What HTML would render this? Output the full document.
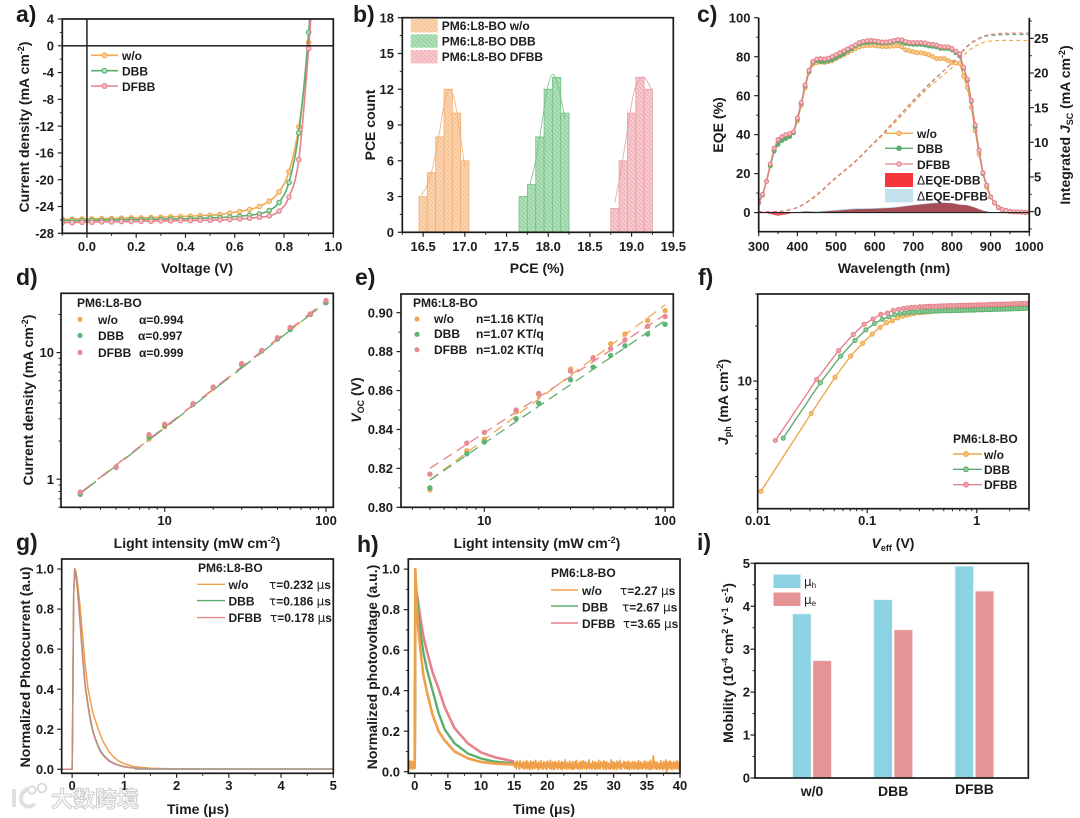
<!DOCTYPE html>
<html lang="en">
<head>
<meta charset="utf-8">
<title>Nine-panel organic solar cell device characterisation figure</title>
<style>
html,body{margin:0;padding:0;background:#fff;}
body{width:1080px;height:818px;overflow:hidden;}
svg{display:block;filter:blur(0.35px);font-family:"Liberation Sans","Noto Sans CJK SC",sans-serif;font-weight:bold;fill:#1c1c1c;}
.p{font-size:23px;}
.t{font-size:13px;}
.l{font-size:12px;}
.n{font-size:14px;}
.s{font-family:"DejaVu Sans",sans-serif;font-weight:normal;}
.m{text-anchor:middle;}
</style>
</head>
<body>
<svg id="figure" xmlns="http://www.w3.org/2000/svg" width="1080" height="818" viewBox="0 0 1080 818">
<defs>
<pattern id="hatch-o" patternUnits="userSpaceOnUse" width="3" height="3" patternTransform="rotate(-45)"><rect width="3" height="3" fill="#fbd6b2"/><rect width="1.2" height="3" fill="#f6c090"/></pattern>
<pattern id="hatch-g" patternUnits="userSpaceOnUse" width="3" height="3" patternTransform="rotate(-45)"><rect width="3" height="3" fill="#b4e2bc"/><rect width="1.2" height="3" fill="#8ed09b"/></pattern>
<pattern id="hatch-r" patternUnits="userSpaceOnUse" width="3" height="3" patternTransform="rotate(-45)"><rect width="3" height="3" fill="#f8cdd1"/><rect width="1.2" height="3" fill="#efaeb4"/></pattern>
</defs>
<rect width="1080" height="818" fill="#fff"/>

<!-- panel a -->
<g id="a">
<text class="p" x="16" y="22">a)</text>
<text class="n m" x="197" y="273">Voltage (V)</text>
<text class="n m" transform="translate(29,127) rotate(-90)">Current density (mA cm<tspan font-size="9" dy="-5">-2</tspan><tspan dy="5">)</tspan></text>
<g id="a-legend">
<line x1="91" x2="118" y1="55.3" y2="55.3" stroke="#f0a94e" stroke-width="1.6"/><circle cx="104.5" cy="55.3" r="2.4" fill="#f8d6a8" stroke="#f0a94e" stroke-width="1.2"/>
<text class="l" x="122" y="60">w/o</text>
<line x1="91" x2="118" y1="70.7" y2="70.7" stroke="#5cae6f" stroke-width="1.6"/><circle cx="104.5" cy="70.7" r="2.4" fill="#bfe2c6" stroke="#5cae6f" stroke-width="1.2"/>
<text class="l" x="122" y="75.5">DBB</text>
<line x1="91" x2="118" y1="86" y2="86" stroke="#e5828b" stroke-width="1.6"/><circle cx="104.5" cy="86" r="2.4" fill="#f4c6ca" stroke="#e5828b" stroke-width="1.2"/>
<text class="l" x="122" y="91">DFBB</text>
</g>
</g>

<!-- panel b -->
<g id="b">
<text class="p" x="353" y="22">b)</text>
<text class="n m" x="537" y="273">PCE (%)</text>
<text class="n m" transform="translate(375,125) rotate(-90)">PCE count</text>
<g>
<rect x="410.7" y="19" width="27" height="13.4" fill="url(#hatch-o)"/>
<text class="l" x="441.7" y="30">PM6:L8-BO w/o</text>
<rect x="410.7" y="34.3" width="27" height="13.4" fill="url(#hatch-g)"/>
<text class="l" x="441.7" y="45.5">PM6:L8-BO DBB</text>
<rect x="410.7" y="50" width="27" height="13.4" fill="url(#hatch-r)"/>
<text class="l" x="441.7" y="61">PM6:L8-BO DFBB</text>
</g>
</g>

<!-- panel c -->
<g id="c">
<text class="p" x="697" y="22">c)</text>
<text class="n m" x="894" y="273">Wavelength (nm)</text>
<text class="n m" transform="translate(723,125) rotate(-90)">EQE (%)</text>
<text class="n m" transform="translate(1070,125) rotate(-90)">Integrated <tspan font-style="italic">J</tspan><tspan font-size="9" dy="3">SC</tspan><tspan dy="-3"> (mA cm</tspan><tspan font-size="9" dy="-5">-2</tspan><tspan dy="5">)</tspan></text>
<g id="c-legend">
<line x1="885" x2="913" y1="133.3" y2="133.3" stroke="#f0a94e" stroke-width="1.3"/><circle cx="899" cy="133.3" r="2.2" fill="#f8d6a8" stroke="#f0a94e" stroke-width="1.2"/>
<text class="l" x="917" y="138">w/o</text>
<line x1="885" x2="913" y1="148.3" y2="148.3" stroke="#5cae6f" stroke-width="1.3"/><circle cx="899" cy="148.3" r="2.2" fill="#5cae6f" stroke="#5cae6f" stroke-width="1.2"/>
<text class="l" x="917" y="153">DBB</text>
<line x1="885" x2="913" y1="164" y2="164" stroke="#e5828b" stroke-width="1.3"/><circle cx="899" cy="164" r="2.2" fill="#f4c6ca" stroke="#e5828b" stroke-width="1.2"/>
<text class="l" x="917" y="169">DFBB</text>
<rect x="885" y="173" width="28" height="14" fill="#f5363c"/>
<text class="l" x="917" y="184.5"><tspan class="s">Δ</tspan>EQE-DBB</text>
<rect x="885" y="189" width="28" height="13.5" fill="#c4e2ec"/>
<text class="l" x="917" y="200.5"><tspan class="s">Δ</tspan>EQE-DFBB</text>
</g>
</g>

<!-- panel d -->
<g id="d">
<text class="p" x="16" y="285">d)</text>
<text class="n m" x="197" y="548">Light intensity (mW cm<tspan font-size="9" dy="-5">-2</tspan><tspan dy="5">)</tspan></text>
<text class="n m" transform="translate(33,400) rotate(-90)">Current density (mA cm<tspan font-size="9" dy="-5">-2</tspan><tspan dy="5">)</tspan></text>
<g>
<text class="l" x="77" y="307">PM6:L8-BO</text>
<circle cx="80" cy="319.3" r="2.6" fill="#f2a95a"/>
<text class="l" x="98" y="324">w/o</text><text class="l" x="139" y="324">α=0.994</text>
<circle cx="80" cy="335.5" r="2.6" fill="#5cb574"/>
<text class="l" x="98" y="340">DBB</text><text class="l" x="138" y="340">α=0.997</text>
<circle cx="80" cy="352.5" r="2.6" fill="#e78b93"/>
<text class="l" x="98" y="357">DFBB</text><text class="l" x="139" y="357">α=0.999</text>
</g>
</g>

<!-- panel e -->
<g id="e">
<text class="p" x="355" y="285">e)</text>
<text class="n m" x="537" y="548">Light intensity (mW cm<tspan font-size="9" dy="-5">-2</tspan><tspan dy="5">)</tspan></text>
<text class="n m" transform="translate(361,400) rotate(-90)"><tspan font-style="italic">V</tspan><tspan font-size="9" dy="3">OC</tspan><tspan dy="-3"> (V)</tspan></text>
<g>
<text class="l" x="413" y="307">PM6:L8-BO</text>
<circle cx="417" cy="319" r="2.6" fill="#f2a95a"/>
<text class="l" x="434" y="323">w/o</text><text class="l" x="476" y="323">n=1.16 KT/q</text>
<circle cx="417" cy="334.3" r="2.6" fill="#5cb574"/>
<text class="l" x="434" y="338">DBB</text><text class="l" x="476" y="338">n=1.07 KT/q</text>
<circle cx="417" cy="349.7" r="2.6" fill="#e78b93"/>
<text class="l" x="434" y="354">DFBB</text><text class="l" x="476" y="354">n=1.02 KT/q</text>
</g>
</g>

<!-- panel f -->
<g id="f">
<text class="p" x="698" y="285">f)</text>
<text class="n m" x="893" y="548"><tspan font-style="italic">V</tspan><tspan font-size="9" dy="3">eff</tspan><tspan dy="-3"> (V)</tspan></text>
<text class="n m" transform="translate(728,402) rotate(-90)"><tspan font-style="italic">J</tspan><tspan font-size="9" dy="3">ph</tspan><tspan dy="-3"> (mA cm</tspan><tspan font-size="9" dy="-5">-2</tspan><tspan dy="5">)</tspan></text>
<g id="f-legend">
<text class="l" x="953" y="443">PM6:L8-BO</text>
<line x1="953" x2="982" y1="454" y2="454" stroke="#f0a94e" stroke-width="1.4"/><circle cx="966" cy="454" r="2.4" fill="#f5c07e" stroke="#f0a94e" stroke-width="1.1"/>
<text class="l" x="984" y="459">w/o</text>
<line x1="953" x2="982" y1="469.3" y2="469.3" stroke="#5cae6f" stroke-width="1.4"/><circle cx="966" cy="469.3" r="2.4" fill="#8ccb99" stroke="#5cae6f" stroke-width="1.1"/>
<text class="l" x="984" y="474">DBB</text>
<line x1="953" x2="982" y1="484.7" y2="484.7" stroke="#e5828b" stroke-width="1.4"/><circle cx="966" cy="484.7" r="2.4" fill="#eda3a9" stroke="#e5828b" stroke-width="1.1"/>
<text class="l" x="984" y="489">DFBB</text>
</g>
</g>

<!-- panel g -->
<g id="g">
<text class="p" x="16" y="550">g)</text>
<text class="n m" x="198" y="814">Time (μs)</text>
<text class="n m" transform="translate(30,667) rotate(-90)">Normalized Photocurrent (a.u)</text>
<g>
<text class="l" x="198" y="572">PM6:L8-BO</text>
<line x1="197" x2="225" y1="584.3" y2="584.3" stroke="#f0a04a" stroke-width="1.4"/>
<text class="l" x="228.5" y="589">w/o</text><text class="l" x="269" y="589"><tspan class="s">τ</tspan>=0.232 <tspan class="s">μ</tspan>s</text>
<line x1="197" x2="225" y1="600.6" y2="600.6" stroke="#5cae6f" stroke-width="1.4"/>
<text class="l" x="228.5" y="605.5">DBB</text><text class="l" x="269" y="605.5"><tspan class="s">τ</tspan>=0.186 <tspan class="s">μ</tspan>s</text>
<line x1="197" x2="225" y1="617.6" y2="617.6" stroke="#e5828b" stroke-width="1.4"/>
<text class="l" x="228.5" y="622">DFBB</text><text class="l" x="270" y="622"><tspan class="s">τ</tspan>=0.178 <tspan class="s">μ</tspan>s</text>
</g>
</g>

<!-- panel h -->
<g id="h">
<text class="p" x="357" y="552">h)</text>
<text class="n m" x="544" y="814">Time (μs)</text>
<text class="n m" transform="translate(377,667) rotate(-90)">Normalized photovoltage (a.u.)</text>
<g>
<text class="l" x="551" y="577">PM6:L8-BO</text>
<line x1="551" x2="578" y1="590" y2="590" stroke="#f0a04a" stroke-width="1.4"/>
<text class="l" x="582" y="595">w/o</text><text class="l" x="620" y="595"><tspan class="s">τ</tspan>=2.27 <tspan class="s">μ</tspan>s</text>
<line x1="551" x2="578" y1="606" y2="606" stroke="#5cae6f" stroke-width="1.4"/>
<text class="l" x="582" y="611.5">DBB</text><text class="l" x="622" y="611.5"><tspan class="s">τ</tspan>=2.67 <tspan class="s">μ</tspan>s</text>
<line x1="551" x2="578" y1="623" y2="623" stroke="#e5828b" stroke-width="1.4"/>
<text class="l" x="582" y="628">DFBB</text><text class="l" x="623" y="628"><tspan class="s">τ</tspan>=3.65 <tspan class="s">μ</tspan>s</text>
</g>
</g>

<!-- panel i -->
<g id="i">
<text class="p" x="697" y="550">i)</text>
<text class="n m" transform="translate(733,663) rotate(-90)">Mobility (10<tspan font-size="9" dy="-5">-4</tspan><tspan dy="5"> cm</tspan><tspan font-size="9" dy="-5">2</tspan><tspan dy="5"> V</tspan><tspan font-size="9" dy="-5">-1</tspan><tspan dy="5"> s</tspan><tspan font-size="9" dy="-5">-1</tspan><tspan dy="5">)</tspan></text>
<g>
<rect x="773.5" y="574.5" width="27" height="13.5" fill="#8dd2e4"/>
<text class="l" x="804" y="586" font-weight="normal"><tspan class="s">μ</tspan><tspan font-size="8" dy="2">h</tspan></text>
<rect x="773.5" y="592.5" width="27" height="13.5" fill="#e69396"/>
<text class="l" x="804" y="604" font-weight="normal"><tspan class="s">μ</tspan><tspan font-size="8" dy="2">e</tspan></text>
</g>
</g>

<!-- watermark -->
<g opacity="0.8">
<path d="M14 789 L14 807 M28 788 Q17 796 23 804 Q29 809 35 804" fill="none" stroke="#d8d8d8" stroke-width="4"/>
<circle cx="32" cy="790" r="3.8" fill="none" stroke="#d0d0d0" stroke-width="1.8"/>
<circle cx="42" cy="788" r="4.4" fill="none" stroke="#d0d0d0" stroke-width="1.8"/>
<text x="51" y="807" font-size="22" fill="#fafafa" stroke="#c4c4c4" stroke-width="1" style="font-family:'Noto Sans CJK SC',sans-serif">大数跨境</text>
</g>
</svg>

<script>
// ---- panel a: J-V ----
const jvVoltage = [-0.1,-0.06,-0.02,0.02,0.06,0.1,0.14,0.18,0.22,0.26,0.3,0.34,0.38,0.42,0.46,0.5,0.54,0.58,0.62,0.66,0.7,0.74,0.78,0.82,0.86,0.9,0.92];
const jvWo   = [-25.9,-25.9,-25.85,-25.85,-25.8,-25.8,-25.75,-25.7,-25.7,-25.65,-25.6,-25.55,-25.5,-25.45,-25.35,-25.3,-25.2,-24.95,-24.75,-24.45,-24,-23.2,-21.8,-18.8,-12.1,0.5,13];
const jvDbb  = [-26.1,-26.1,-26.1,-26.05,-26.05,-26,-26,-25.95,-25.95,-25.9,-25.9,-25.85,-25.85,-25.8,-25.75,-25.7,-25.65,-25.55,-25.45,-25.3,-25.1,-24.6,-23.4,-20.4,-13,2,14];
const jvDfbb = [-26.4,-26.4,-26.35,-26.35,-26.3,-26.3,-26.25,-26.25,-26.2,-26.2,-26.15,-26.15,-26.1,-26.1,-26.05,-26.05,-26,-25.95,-25.85,-25.75,-25.6,-25.4,-24.7,-22.6,-17,-0.4,11];
const jvYTicks = [4,0,-4,-8,-12,-16,-20,-24,-28];
const jvXTicks = [0,0.2,0.4,0.6,0.8,1];

// ---- panel b: PCE histogram ----
const binWidth = 0.1;
const binStartWo = [16.45,16.55,16.65,16.75,16.85,16.95];
const countWo = [3,5,8,12,10,6];
const binStartDbb = [17.65,17.75,17.85,17.95,18.05,18.15];
const countDbb = [3,4,8,12,13,10];
const binStartDfbb = [18.75,18.85,18.95,19.05,19.15];
const countDfbb = [2,6,10,13,12];
const fitXWo = [16.48,16.55,16.62,16.7,16.76,16.82,16.88,16.94,17];
const fitYWo = [3.1,4,5.6,8.6,11,12,11,8.4,5.5];
const fitXDbb = [17.78,17.85,17.92,18,18.07,18.14,18.2];
const fitYDbb = [4,6,9,12.4,13.2,11.6,9.5];
const fitXDfbb = [18.8,18.88,18.95,19.03,19.13,19.2,19.25];
const fitYDfbb = [2.5,5.5,8.6,11.8,13,12.5,11.8];
const pceXTicks = [16.5,17,17.5,18,18.5,19,19.5];
const pceYTicks = [0,3,6,9,12,15,18];

// ---- panel c: EQE ----
const eqeNm = [300,310,320,330,340,350,360,370,380,390,400,410,420,430,440,450,460,470,480,490,500,510,520,530,540,550,560,570,580,590,600,610,620,630,640,650,660,670,680,690,700,710,720,730,740,750,760,770,780,790,800,810,820,830,840,850,860,870,880,890,900,910,920,930,940,950,960,970,980,990,1000];
const eqeWo = [5,9,16,24,32,36,38,39,39.5,41,47,55,64,72,76,77,77.2,77,77.5,78,79,80,81,82,83,84,85,85.5,85.7,85.8,85.7,85.4,85.2,85.2,85.3,85.5,85.6,85,83.5,83,82.5,82,82,81.5,81,80,79,79,79,78,77,76.7,76.5,70,64,54,42,30,20,13,8,5,2.5,1.5,1,0.6,0.4,0.3,0.2,0.1,0.1];
const eqeDbb = [5,9,16,24,31.5,35,37,38,39,41,48,56,65,72.5,77,78,77.5,77.5,78,78.5,79.5,80.5,81.5,83,84,85.5,86.5,87,87.3,87.5,87.5,87.2,87,87,87.3,87.8,88,87.5,86.8,86.5,86.3,86.3,86.3,86,85.5,85.3,85,84.3,84.2,84.2,83.5,82,80.5,74,68,57,44,32,20,14,8,5,2.6,1.5,1,0.6,0.4,0.3,0.2,0.1,0.1];
const eqeDfbb = [5.2,9.4,16,25,33,37.5,39,40,40.5,41.5,48.5,56.5,65.5,73,77.5,78.8,79,78.8,79.2,80,81,82,83,84,85,86,87.2,87.8,88.2,88.3,88.2,87.8,87.5,87.5,87.8,88.3,88.7,88.6,87.8,87.3,87.2,87.2,87.2,87,86.5,86.3,86,85.2,85,85,84.2,82.8,81.5,74.5,68.5,57.5,45,32,20.5,14,8,5,2.7,1.6,1,0.6,0.4,0.3,0.2,0.1,0.1];
const jscNm = [300,330,364,400,433,460,493,530,562,590,622,660,709,750,786,810,829,850,881,900,924,950,1000];
const jscWo = [0,0,0.1,0.6,1.6,2.8,4.5,6.2,7.8,9.4,11.1,13.3,16.2,18.4,20.1,21.3,22.5,23.5,24.4,24.6,24.7,24.7,24.7];
const jscDbb = [0,0,0.1,0.6,1.7,2.9,4.6,6.3,7.9,9.5,11.3,13.6,16.5,18.8,20.7,22,23.2,24.3,25.2,25.4,25.5,25.55,25.55];
const jscDfbb = [0,0,0.1,0.6,1.7,2.9,4.6,6.3,7.9,9.5,11.3,13.6,16.6,18.9,20.7,22,23.3,24.4,25.3,25.55,25.7,25.75,25.75];
const deltaNm = [300,320,340,350,370,390,420,450,500,550,600,650,700,750,780,800,820,840,860,880,900,950,1000];
const deltaDbb = [0,-0.2,-1.2,-1.6,-1,0,0.6,0.3,1,1.8,2,2.5,3.8,4.8,5,4.8,4,3.8,2.5,1,0.2,0,0];
const deltaDfbb = [0,0.1,0.2,0.2,0.1,0.2,0.7,0.7,1.4,2.2,2.3,2.8,4,5,5.2,5,4.3,3.9,2.6,1,0.2,0,0];
const eqeXTicks = [300,400,500,600,700,800,900,1000];
const eqeYTicks = [0,20,40,60,80,100];
const jscTicks = [0,5,10,15,20,25];

// ---- panel d: Jsc vs light ----
const lightD = [3,5,8,10,15,20,30,40,50,60,80,100];
const jLightWo = [0.78,1.25,2.08,2.6,3.9,5.25,8.05,10.3,12.9,15.4,20,25.2];
const jLightDbb = [0.76,1.24,2.15,2.65,3.9,5.3,8,10.3,12.8,15.2,20,24.8];
const jLightDfbb = [0.79,1.25,2.25,2.72,3.95,5.35,8.2,10.4,13.1,15.8,20.2,25.8];
const fitLightD = [3,100];
const jFitWo = [0.78,25];
const jFitDbb = [0.77,24.9];
const jFitDfbb = [0.78,25.6];
const dXTicks = [10,100];
const dYTicks = [1,10];

// ---- panel e: Voc vs light ----
const lightE = [5,8,10,15,20,30,40,50,60,80,100];
const vocWo = [0.809,0.829,0.835,0.849,0.858,0.871,0.877,0.884,0.889,0.896,0.901];
const vocDbb = [0.81,0.8275,0.8335,0.8455,0.8535,0.8655,0.872,0.878,0.883,0.889,0.894];
const vocDfbb = [0.817,0.833,0.8385,0.85,0.8585,0.87,0.8765,0.8815,0.886,0.893,0.898];
const fitLightE = [5,100];
const vocFitWo = [0.814,0.904];
const vocFitDbb = [0.814,0.896];
const vocFitDfbb = [0.82,0.899];
const eXTicks = [10,100];
const eYTicks = [0.8,0.82,0.84,0.86,0.88,0.9];

// ---- panel f: Jph vs Veff ----
const veffWo = [0.0107,0.0308,0.0508,0.0705,0.0906,0.111,0.131,0.15,0.17,0.19,0.21,0.23,0.25,0.27];
const jphWo = [2.49,6.65,10.5,13.7,16.1,18.1,19.7,20.9,21.4,22.2,22.7,23,23.3,23.5];
const veffDbb = [0.0171,0.0373,0.0572,0.0772,0.0972,0.117,0.137,0.158,0.178,0.2,0.22,0.24,0.26,0.28];
const jphDbb = [4.87,9.8,13.7,16.7,19.1,20.7,21.8,22.5,23.1,23.4,23.6,23.75,23.85,23.95];
const veffDfbb = [0.0145,0.0345,0.0548,0.0745,0.0938,0.113,0.133,0.153,0.173,0.193,0.213,0.233,0.253,0.273];
const jphDfbb = [4.73,10.2,14.7,18,20.5,21.9,23.2,23.6,24.4,24.7,25,25.2,25.3,25.4];
const veffTail = [0.3,0.32,0.34,0.36,0.38,0.4,0.43,0.46,0.49,0.52,0.55,0.58,0.62,0.66,0.7,0.74,0.78,0.83,0.88,0.93,0.98,1.04,1.1,1.16,1.23,1.3,1.37,1.45,1.53,1.62,1.71,1.81,1.91,2.02,2.13,2.25,2.37,2.5,2.64,2.8,3];
const jphTailWo = [23.7,23.8,23.9,24,24.05,24.1,24.2,24.3,24.35,24.4,24.45,24.5,24.55,24.6,24.65,24.7,24.72,24.75,24.8,24.82,24.85,24.88,24.9,24.92,24.95,24.97,25,25.02,25.05,25.07,25.1,25.12,25.15,25.17,25.2,25.22,25.24,25.26,25.28,25.29,25.3];
const jphTailDbb = [24,24.05,24.1,24.12,24.15,24.18,24.2,24.23,24.26,24.28,24.3,24.32,24.35,24.38,24.4,24.42,24.45,24.47,24.5,24.52,24.55,24.57,24.6,24.62,24.65,24.67,24.7,24.72,24.75,24.77,24.8,24.82,24.85,24.87,24.9,24.92,24.95,24.97,25,25.05,25.1];
const jphTailDfbb = [25.5,25.55,25.6,25.65,25.7,25.72,25.75,25.8,25.82,25.85,25.88,25.9,25.93,25.95,25.98,26,26.02,26.05,26.08,26.1,26.12,26.15,26.18,26.2,26.22,26.25,26.28,26.3,26.33,26.35,26.38,26.4,26.43,26.46,26.49,26.52,26.55,26.58,26.61,26.65,26.7];
const fXTicks = [0.01,0.1,1];
const fYTicks = [10];

// ---- panel g: TPC ----
const tpcTime = [-0.2,0,0.01,0.02,0.03,0.05,0.07,0.1,0.13,0.16,0.2,0.25,0.3,0.35,0.4,0.45,0.5,0.55,0.6,0.7,0.8,0.9,1,1.2,1.5,2,3,4,5];
const tpcWo = [0,0,0.25,0.6,0.88,1,0.99,0.94,0.87,0.79,0.67,0.52,0.41,0.34,0.28,0.24,0.2,0.165,0.135,0.09,0.06,0.04,0.027,0.013,0.005,0.002,0.001,0.001,0.001];
const tpcDbb = [0,0,0.25,0.6,0.88,1,0.98,0.91,0.81,0.71,0.57,0.42,0.33,0.25,0.19,0.15,0.115,0.09,0.072,0.045,0.03,0.02,0.013,0.006,0.002,0.001,0.001,0.001,0.001];
const tpcDfbb = [0,0,0.25,0.6,0.88,1,0.97,0.9,0.8,0.7,0.56,0.41,0.32,0.24,0.185,0.145,0.11,0.085,0.068,0.042,0.028,0.018,0.012,0.005,0.002,0.001,0.001,0.001,0.001];
const tpcXTicks = [0,1,2,3,4,5];
const tpcYTicks = [0,0.2,0.4,0.6,0.8,1];

// ---- panel h: TPV ----
const tpvTime = [-1,-0.5,-0.05,0,0.05,0.1,0.2,0.3,0.5,0.85,1.3,1.8,2.7,3.6,4.5,6,8,10,12,15];
const tpvWo = [0.03,0.03,0.03,0.02,0.5,1,0.9,0.82,0.72,0.6,0.48,0.4,0.28,0.2,0.155,0.1,0.066,0.048,0.04,0.035];
const tpvDbb = [0.03,0.03,0.03,0.02,0.3,0.95,0.93,0.88,0.8,0.69,0.59,0.51,0.4,0.29,0.21,0.14,0.09,0.065,0.05,0.04];
const tpvDfbb = [0.03,0.03,0.03,0.02,0.3,0.85,0.88,0.88,0.84,0.76,0.67,0.6,0.49,0.41,0.32,0.215,0.14,0.095,0.072,0.05];
const tpvPreBand = [0.02,0.05,0.012,0.045,0.03,0.055,0.015,0.04,0.025,0.05,0.012,0.048,0.02,0.035];
const tpvBandStart = 15;
const tpvBandEnd = 40;
const tpvBand = [0.05,0.022,0.046,0.014,0.052,0.028,0.044,0.012,0.056,0.024,0.04,0.016,0.05,0.03,0.012,0.048,0.02,0.054,0.014,0.044,0.028,0.01,0.052,0.02,0.046,0.012,0.05,0.03,0.016,0.056,
0.022,0.042,0.01,0.048,0.026,0.014,0.054,0.02,0.04,0.012,0.05,0.028,0.016,0.046,0.01,0.052,0.024,0.042,0.014,0.056,0.02,0.012,0.048,0.03,0.01,0.05,0.018,0.044,0.026,0.012,
0.054,0.02,0.04,0.014,0.05,0.01,0.046,0.028,0.016,0.058,0.022,0.012,0.044,0.03,0.014,0.052,0.018,0.04,0.01,0.05,0.024,0.012,0.048,0.02,0.056,0.014,0.042,0.028,0.01,0.05,
0.018,0.046,0.012,0.054,0.024,0.016,0.05,0.03,0.01,0.044,0.02,0.058,0.014,0.04,0.022,0.012,0.052,0.026,0.016,0.048,0.01,0.044,0.03,0.014,0.056,0.02,0.012,0.05,0.024,0.042,
0.012,0.054,0.018,0.046,0.01,0.05,0.028,0.014,0.042,0.02,0.012,0.058,0.024,0.016,0.05,0.012,0.044,0.03,0.01,0.052,0.02,0.046,0.014,0.056,0.022,0.012,0.04,0.026,0.05,0.014,
0.048,0.018,0.044,0.012,0.052,0.024,0.01,0.046,0.03,0.014,0.05,0.02,0.012,0.05,0.026,0.016,0.044,0.01,0.054,0.022,0.014,0.048,0.028,0.012,0.042,0.018,0.052,0.02,0.012,0.05,
0.024,0.014,0.046,0.01,0.056,0.02,0.012,0.044,0.078,0.016,0.05,0.022,0.012,0.048,0.014,0.04,0.026,0.012,0.054,0.018,0.042,0.01,0.05,0.024,0.014,0.058,-0.008,0.046,0.012,0.05,
0.02,0.052,0.012,0.044,0.026,0.01,0.05,0.018,0.046,0.014,0.054,0.022,0.012,0.048,0.03];
const tpvXTicks = [0,5,10,15,20,25,30,35,40];
const tpvYTicks = [0,0.2,0.4,0.6,0.8,1];

// ---- panel i: mobility ----
const mobilityGroups = ["w/0","DBB","DFBB"];
const mobilityHole = [3.82,4.15,4.93];
const mobilityElectron = [2.73,3.45,4.35];
const mobilityTicks = [0,1,2,3,4,5];

// ---- drawing helpers ----
const NS = 'http://www.w3.org/2000/svg';
const COL = {o:'#f0a94e', g:'#5cae6f', r:'#e5828b', ol:'#f8d6a8', gl:'#bfe2c6', rl:'#f4c6ca'};
const linear = (d0,d1,r0,r1) => v => r0 + (v-d0)/(d1-d0)*(r1-r0);
const logS = (d0,d1,r0,r1) => v => r0 + (Math.log10(v)-Math.log10(d0))/(Math.log10(d1)-Math.log10(d0))*(r1-r0);

function add(parent, tag, attrs, name) {
  const el = document.createElementNS(NS, tag);
  for (const k in attrs) el.setAttribute(k, attrs[k]);
  
  
  parent.appendChild(el);
  return el;
}
function clip(panel, box) {
  const id = 'clip-' + panel.id;
  const c = add(panel, 'clipPath', {id}, 'plot-clip');
  add(c, 'rect', {x:box.l, y:box.t, width:box.r-box.l, height:box.b-box.t}, 'plot-clip-rect');
  return add(panel, 'g', {'clip-path':'url(#'+id+')'}, 'plot-area');
}
function frame(panel, box, noTop) {
  const st = {fill:'none', stroke:'#1a1a1a', 'stroke-width':1.7};
  if (noTop) {
    add(panel, 'path', Object.assign({d:`M${box.l} ${box.t}V${box.b}H${box.r}V${box.t}`}, st), 'axes-frame');
  } else {
    add(panel, 'rect', Object.assign({x:box.l, y:box.t, width:box.r-box.l, height:box.b-box.t}, st), 'axes-frame');
  }
}
function yAxis(panel, box, sc, ticks, minor, fmt, labelX, side) {
  const dir = side === 'right' ? 1 : -1;
  const x0 = side === 'right' ? box.r : box.l;
  minor.forEach(v => add(panel, 'line', {x1:x0, x2:x0+dir*2.5, y1:sc(v), y2:sc(v), stroke:'#222', 'stroke-width':1}, 'y-minor-tick'));
  ticks.forEach(v => {
    add(panel, 'line', {x1:x0, x2:x0+dir*4.5, y1:sc(v), y2:sc(v), stroke:'#222', 'stroke-width':1.2}, 'y-tick');
    const t = add(panel, 'text', {class:'t', x:labelX, y:sc(v)+4.6, 'text-anchor':side==='right'?'start':'end'}, 'y-tick-label');
    t.textContent = fmt(v);
  });
}
function xAxis(panel, box, sc, ticks, minor, fmt, labelY) {
  minor.forEach(v => add(panel, 'line', {x1:sc(v), x2:sc(v), y1:box.b, y2:box.b+2.5, stroke:'#222', 'stroke-width':1}, 'x-minor-tick'));
  ticks.forEach(v => {
    add(panel, 'line', {x1:sc(v), x2:sc(v), y1:box.b, y2:box.b+4.5, stroke:'#222', 'stroke-width':1.2}, 'x-tick');
    const t = add(panel, 'text', {class:'t m', x:sc(v), y:labelY}, 'x-tick-label');
    t.textContent = fmt(v);
  });
}
function smooth(pts) {
  let d = `M${pts[0][0]} ${pts[0][1]}`;
  for (let i=0;i<pts.length-1;i++){
    const p0=pts[i-1]||pts[i],p1=pts[i],p2=pts[i+1],p3=pts[i+2]||p2;
    d+=`C${p1[0]+(p2[0]-p0[0])/6} ${p1[1]+(p2[1]-p0[1])/6} ${p2[0]-(p3[0]-p1[0])/6} ${p2[1]-(p3[1]-p1[1])/6} ${p2[0]} ${p2[1]}`;
  }
  return d;
}
function poly(pts){ return 'M'+pts.map(p=>p[0]+' '+p[1]).join('L'); }
function zip(xs,ys,sx,sy){ return xs.map((x,i)=>[sx(x),sy(ys[i])]); }
function curve(g, pts, color, w, name, dash, useSmooth) {
  const a = {d:useSmooth?smooth(pts):poly(pts), fill:'none', stroke:color, 'stroke-width':w, 'stroke-linejoin':'round'};
  if (dash) a['stroke-dasharray'] = dash;
  return add(g, 'path', a, name);
}
function dots(g, pts, fill, stroke, r, name, sw) {
  pts.forEach(p => add(g, 'circle', {cx:p[0], cy:p[1], r, fill, stroke, 'stroke-width':sw||1.1}, name));
}
const rng = (a,b,s) => { const o=[]; for(let v=a;v<=b+1e-9;v+=s) o.push(+v.toFixed(4)); return o; };
const $ = id => document.getElementById(id);

// ---- panel a ----
(function(){
  const box={l:62.3,r:333.3,t:19,b:233.3}, p=$('a');
  const legend=$('a-legend');
  const sx=linear(-0.1,1,box.l,box.r), sy=linear(-28,4,box.b,box.t);
  const g=clip(p,box);
  [[jvWo,COL.o,COL.ol,'wo'],[jvDbb,COL.g,COL.gl,'dbb'],[jvDfbb,COL.r,COL.rl,'dfbb']].forEach(s=>{
    const pts=zip(jvVoltage,s[0],sx,sy);
    curve(g,pts,s[1],1.6,'jv-line-'+s[3],null,true);
    dots(g,pts,s[2],s[1],2.2,'jv-point-'+s[3],1.2);
  });
  add(g,'line',{x1:box.l,x2:box.r,y1:sy(0),y2:sy(0),stroke:'#111','stroke-width':1.4},'zero-current-line');
  add(g,'line',{x1:sx(0),x2:sx(0),y1:box.t,y2:box.b,stroke:'#111','stroke-width':1.4},'zero-voltage-line');
  frame(p,box);
  yAxis(p,box,sy,jvYTicks,rng(-26,2,4),v=>String(v),54);
  xAxis(p,box,sx,jvXTicks,rng(-0.1,0.9,0.2),v=>v.toFixed(1),251);
  p.appendChild(legend);
})();

// ---- panel b ----
(function(){
  const box={l:402.3,r:673.3,t:17.7,b:232.3}, p=$('b');
  const sx=linear(16.25,19.5,box.l,box.r), sy=linear(0,18,box.b,box.t);
  [[binStartWo,countWo,'hatch-o','#f2ae74','wo',fitXWo,fitYWo],[binStartDbb,countDbb,'hatch-g','#73c084','dbb',fitXDbb,fitYDbb],[binStartDfbb,countDfbb,'hatch-r','#e8a0a6','dfbb',fitXDfbb,fitYDfbb]].forEach(s=>{
    s[0].forEach((b,i)=>{
      add(p,'rect',{x:sx(b),y:sy(s[1][i]),width:sx(b+binWidth)-sx(b),height:sy(0)-sy(s[1][i]),fill:'url(#'+s[2]+')',stroke:s[3],'stroke-width':0.8},'bar-'+s[4]);
    });
    curve(p,zip(s[5],s[6],sx,sy),s[3],0.8,'fit-curve-'+s[4],null,true);
  });
  frame(p,box);
  yAxis(p,box,sy,pceYTicks,rng(1.5,16.5,3),v=>String(v),394);
  xAxis(p,box,sx,pceXTicks,rng(16.25,19.25,0.5),v=>v.toFixed(1),251);
})();

// ---- panel c ----
(function(){
  const box={l:758.7,r:1029.3,t:17.7,b:231.7}, p=$('c');
  const legend=$('c-legend');
  const sx=linear(300,1000,box.l,box.r), sy=linear(-9.8,100,box.b,box.t), sj=linear(-2.9,28,box.b,box.b-(28+2.9)*6.93);
  const g=clip(p,{l:box.l,r:box.r,t:box.t-2,b:box.b});
  const area=(ys,fill,name,extra)=>{
    const top=zip(deltaNm,ys,sx,sy);
    const d=poly(top)+`L${sx(1000)} ${sy(0)}L${sx(300)} ${sy(0)}Z`;
    const a=add(g,'path',{d,fill},name);
    if(extra) a.setAttribute('style',extra);
  };
  area(deltaDbb,'#e8585e','delta-eqe-area-dbb');
  area(deltaDfbb,'#b7dce8','delta-eqe-area-dfbb','mix-blend-mode:multiply');
  [[eqeWo,jscWo,COL.o,'#f8d6a8','wo'],[eqeDbb,jscDbb,COL.g,COL.g,'dbb'],[eqeDfbb,jscDfbb,COL.r,'#f4c6ca','dfbb']].forEach(s=>{
    curve(g,zip(jscNm,s[1],sx,sj),s[2],1.2,'integrated-jsc-line-'+s[4],'4 3',true);
    const pts=zip(eqeNm,s[0],sx,sy);
    curve(g,pts,s[2],1.4,'eqe-line-'+s[4]);
    dots(g,pts,s[3],s[2],1.9,'eqe-point-'+s[4],1.2);
  });
  add(g,'line',{x1:box.l,x2:box.r,y1:sy(0),y2:sy(0),stroke:'#222','stroke-width':1.1},'eqe-zero-line');
  frame(p,box,true);
  yAxis(p,box,sy,eqeYTicks,rng(10,90,20),v=>String(v),750.5);
  yAxis(p,box,sj,jscTicks,rng(-2.5,27.5,5),v=>String(v),1034,'right');
  xAxis(p,box,sx,eqeXTicks,rng(350,950,100),v=>String(v),251);
  p.appendChild(legend);
})();

// ---- panel d ----
(function(){
  const box={l:61,r:333.3,t:293.3,b:507.3}, p=$('d');
  const sx=logS(2.277,111,box.l,box.r), sy=logS(0.6,29.4,box.b,box.t);
  const g=clip(p,box);
  [[jFitWo,'#f0a94e','wo','15 7'],[jFitDbb,'#5cae6f','dbb','20 8'],[jFitDfbb,'#e5828b','dfbb','13 9']].forEach(s=>{
    curve(g,zip(fitLightD,s[0],sx,sy),s[1],1.3,'fit-line-'+s[2],s[3]);
  });
  [[jLightWo,'#f2a95a','wo'],[jLightDbb,'#5cb574','dbb'],[jLightDfbb,'#e78b93','dfbb']].forEach(s=>{
    dots(g,zip(lightD,s[0],sx,sy),s[1],s[1],2.3,'jsc-point-'+s[2],0.8);
  });
  frame(p,box);
  yAxis(p,box,sy,dYTicks,[0.6,0.7,0.8,0.9,2,3,4,5,6,7,8,9,20],v=>String(v),54);
  xAxis(p,box,sx,dXTicks,[3,4,5,6,7,8,9,20,30,40,50,60,70,80,90],v=>String(v),525);
})();

// ---- panel e ----
(function(){
  const box={l:401,r:673.3,t:294,b:507.3}, p=$('e');
  const sx=logS(3.46,111,box.l,box.r), sy=linear(0.8,0.9096,box.b,box.t);
  const g=clip(p,box);
  [[vocFitWo,'#f0a94e','wo'],[vocFitDbb,'#5cae6f','dbb'],[vocFitDfbb,'#e5828b','dfbb']].forEach(s=>{
    curve(g,zip(fitLightE,s[0],sx,sy),s[1],1.3,'fit-line-'+s[2],'10 6');
  });
  [[vocWo,'#f2a95a','wo'],[vocDbb,'#5cb574','dbb'],[vocDfbb,'#e78b93','dfbb']].forEach(s=>{
    dots(g,zip(lightE,s[0],sx,sy),s[1],s[1],2.3,'voc-point-'+s[2],0.8);
  });
  frame(p,box);
  yAxis(p,box,sy,eYTicks,rng(0.81,0.89,0.02),v=>v.toFixed(2),393);
  xAxis(p,box,sx,eXTicks,[4,5,6,7,8,9,20,30,40,50,60,70,80,90],v=>String(v),525);
})();

// ---- panel f ----
(function(){
  const box={l:757.7,r:1029,t:294,b:508.7}, p=$('f');
  const legend=$('f-legend');
  const sx=logS(0.01,3,box.l,box.r), sy=logS(2,30,box.b,box.t);
  const g=clip(p,box);
  [[veffWo,jphWo,jphTailWo,COL.o,'#f5c07e','wo'],[veffDbb,jphDbb,jphTailDbb,COL.g,'#8ccb99','dbb'],[veffDfbb,jphDfbb,jphTailDfbb,COL.r,'#eda3a9','dfbb']].forEach(s=>{
    const pts=zip(s[0].concat(veffTail),s[1].concat(s[2]),sx,sy);
    curve(g,pts,s[3],1.4,'jph-line-'+s[5]);
    dots(g,pts,s[4],s[3],2.1,'jph-point-'+s[5],1);
  });
  frame(p,box);
  yAxis(p,box,sy,fYTicks,[3,4,5,6,7,8,9,20,30],v=>String(v),752);
  xAxis(p,box,sx,fXTicks,[0.02,0.03,0.04,0.05,0.06,0.07,0.08,0.09,0.2,0.3,0.4,0.5,0.6,0.7,0.8,0.9,2,3],v=>String(v),525);
  p.appendChild(legend);
})();

// ---- panel g ----
(function(){
  const box={l:61.7,r:333.3,t:559,b:773.3}, p=$('g');
  const sx=linear(-0.2,5,box.l,box.r), sy=linear(-0.02,1.05,box.b,box.t);
  const g=clip(p,box);
  [[tpcWo,'#f0a04a','wo'],[tpcDbb,'#6fa878','dbb'],[tpcDfbb,'#c98a80','dfbb']].forEach(s=>{
    curve(g,zip(tpcTime,s[0],sx,sy),s[1],1.5,'photocurrent-trace-'+s[2]);
  });
  add(g,'line',{x1:sx(1.2),x2:sx(5),y1:sy(0.001),y2:sy(0.001),stroke:'#a89f94','stroke-width':1.6},'photocurrent-baseline');
  frame(p,box);
  yAxis(p,box,sy,tpcYTicks,rng(0.1,0.9,0.2),v=>v.toFixed(1),54);
  xAxis(p,box,sx,tpcXTicks,rng(0.5,4.5,1),v=>String(v),790);
})();

// ---- panel h ----
(function(){
  const box={l:408.3,r:680,t:559,b:773.3}, p=$('h');
  const sx=linear(-0.966,40,box.l,box.r), sy=linear(-0.008,1.05,box.b,box.t);
  const g=clip(p,box);
  const tx=i=>tpvBandStart+i*(tpvBandEnd-tpvBandStart)/(tpvBand.length-1);
  curve(g,zip(tpvTime,tpvDfbb,sx,sy),'#e5828b',2.6,'photovoltage-decay-dfbb');
  curve(g,zip(tpvTime,tpvDbb,sx,sy),'#5cae6f',2.4,'photovoltage-decay-dbb');
  curve(g,zip(tpvTime,tpvWo,sx,sy),'#f0a04a',2.6,'photovoltage-decay-wo');
  const band=tpvBand.map((v,i)=>[sx(tx(i)),sy(v)]);
  curve(g,band,'#f0a04a',1.7,'photovoltage-noise-band-wo');
  const pre=tpvPreBand.map((v,i)=>[sx(-1+i*0.92/(tpvPreBand.length-1)),sy(v)]);
  curve(g,pre,'#f0a04a',1.7,'photovoltage-pre-pulse-noise');
  frame(p,box);
  yAxis(p,box,sy,tpvYTicks,rng(0.1,0.9,0.2),v=>v.toFixed(1),400);
  xAxis(p,box,sx,tpvXTicks,rng(2.5,37.5,5),v=>String(v),790);
})();

// ---- panel i ----
(function(){
  const box={l:755,r:1028.3,t:563.3,b:778}, p=$('i');
  const sy=linear(0,5,box.b,box.t);
  const center=i=>box.l+57+i*81.2;
  const bw=18.3;
  mobilityGroups.forEach((name,i)=>{
    add(p,'rect',{x:center(i)-bw-1,y:sy(mobilityHole[i]),width:bw,height:sy(0)-sy(mobilityHole[i]),fill:'#8dd2e4',stroke:'#d8f0f6','stroke-width':0.6},'bar-hole-mobility-'+i);
    add(p,'rect',{x:center(i)+1,y:sy(mobilityElectron[i]),width:bw,height:sy(0)-sy(mobilityElectron[i]),fill:'#e69396',stroke:'#f8dcdd','stroke-width':0.6},'bar-electron-mobility-'+i);
    const t=add(p,'text',{class:'n m',x:center(i),y:i===2?794:796},'category-label');
    t.textContent=name;
  });
  frame(p,box);
  yAxis(p,box,sy,mobilityTicks,rng(0.5,4.5,1),v=>String(v),750);
})();
</script>
</body>
</html>
